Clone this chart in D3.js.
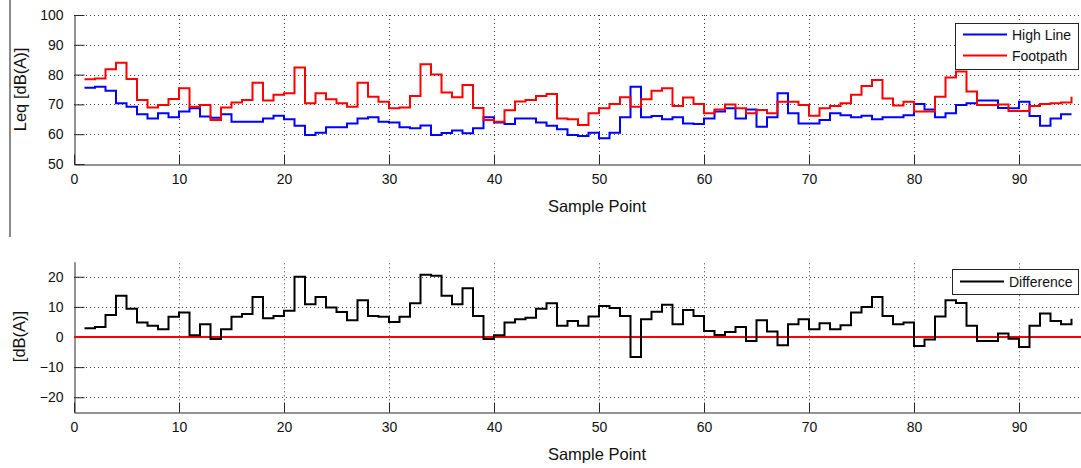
<!DOCTYPE html>
<html>
<head>
<meta charset="utf-8">
<script src="https://cdnjs.cloudflare.com/ajax/libs/d3/7.8.5/d3.min.js"></script>
<style>
  html, body { margin: 0; padding: 0; background: #fff; }
  svg { display: block; font-family: "Liberation Sans", Arial, sans-serif; }
</style>
</head>
<body>
<svg id="chart" width="1081" height="468"></svg>
<script>
// ---- data (sample points 1..95) ----
const samplePoints = d3.range(1, 96);
const highLine = [
  75.6, 75.9, 74.6, 70.4, 69.2, 66.7, 65.3, 67.0, 65.7, 67.6,
  68.7, 65.9, 65.5, 66.7, 64.2, 64.2, 64.2, 65.3, 66.2, 65.0,
  62.8, 59.7, 60.5, 62.3, 62.3, 63.6, 65.3, 65.7, 64.2, 63.9,
  62.3, 62.0, 62.9, 59.7, 60.4, 61.2, 60.3, 62.0, 65.7, 63.9,
  63.4, 65.3, 65.3, 63.9, 62.8, 61.7, 59.7, 59.4, 60.5, 58.6,
  60.5, 65.7, 75.9, 65.7, 66.1, 65.0, 65.7, 63.6, 63.4, 65.3,
  67.6, 68.7, 65.3, 68.3, 62.5, 65.7, 73.7, 67.0, 63.6, 63.6,
  64.8, 67.0, 66.4, 65.7, 66.2, 65.0, 65.7, 65.7, 66.4, 70.1,
  68.3, 65.7, 67.0, 69.8, 70.4, 71.3, 71.3, 68.8, 68.7, 70.9,
  66.1, 62.8, 65.3, 66.7, 66.7
];
const footpath = [
  78.4, 78.7, 81.8, 84.0, 78.5, 71.5, 69.0, 69.8, 71.8, 75.4,
  69.2, 69.8, 64.8, 69.0, 70.6, 71.5, 77.3, 71.3, 73.2, 73.7,
  82.4, 70.4, 73.7, 71.7, 70.4, 69.2, 77.3, 72.6, 70.9, 68.7,
  69.0, 72.8, 83.5, 80.0, 74.0, 72.4, 76.5, 68.8, 64.8, 64.2,
  68.0, 71.0, 71.5, 72.8, 73.5, 65.3, 65.0, 63.1, 67.0, 68.7,
  70.1, 72.4, 69.2, 71.7, 74.6, 75.4, 69.5, 72.3, 70.1, 67.0,
  68.3, 70.0, 68.7, 67.0, 68.1, 67.0, 70.9, 70.9, 69.8, 66.2,
  68.7, 69.5, 70.4, 73.2, 76.2, 78.2, 72.0, 69.6, 70.9, 67.6,
  67.6, 72.6, 79.0, 81.0, 74.3, 69.8, 69.8, 70.0, 67.8, 67.8,
  69.5, 70.1, 70.4, 70.6, 72.6
];
const difference = [
  2.9, 3.3, 7.3, 13.7, 9.4, 4.8, 3.7, 2.6, 6.7, 8.1,
  0.6, 4.2, -0.7, 2.6, 6.7, 7.6, 13.3, 6.2, 7.0, 8.7,
  20.0, 10.9, 13.3, 9.8, 8.3, 5.6, 12.2, 7.0, 6.7, 5.0,
  6.7, 11.2, 20.7, 20.3, 13.7, 10.9, 16.2, 7.0, -0.7, 0.6,
  4.8, 5.9, 6.4, 9.4, 11.2, 3.7, 5.3, 3.7, 6.8, 10.3,
  9.6, 7.0, -6.6, 5.9, 8.4, 10.7, 4.2, 9.0, 7.0, 2.0,
  0.7, 1.7, 3.3, -1.3, 5.6, 1.8, -2.7, 4.2, 5.9, 2.6,
  4.6, 2.6, 3.9, 8.1, 10.0, 13.3, 7.0, 4.2, 4.8, -3.0,
  -0.8, 6.8, 12.2, 11.3, 3.7, -1.3, -1.3, 1.2, -0.6, -3.3,
  3.7, 7.8, 5.3, 4.2, 6.1
];
const xTicks = [0, 10, 20, 30, 40, 50, 60, 70, 80, 90];
const topYTicks = [50, 60, 70, 80, 90, 100];
const bottomYTicks = [-20, -10, 0, 10, 20];
const topSeriesNames = ["High Line", "Footpath"];
const bottomSeriesNames = ["Difference"];
const xLabel = "Sample Point";
const topYLabel = "Leq [dB(A)]";
const bottomYLabel = "[dB(A)]";

// ---- layout ----
const svg = d3.select("#chart");
const axisColor = "#262626";
const gridColor = "#404040";
const left = 74, right = 1082;

const x = d3.scaleLinear().domain([0, 96]).range([left, right]);
const yTop = d3.scaleLinear().domain([50, 100]).range([164, 15]);
const yBot = d3.scaleLinear().domain([-25, 25]).range([412.3, 261.7]);

// odd gray bar at far left
svg.append("line")
  .attr("x1", 10).attr("x2", 10).attr("y1", 0).attr("y2", 237)
  .attr("stroke", "#8a8a8a").attr("stroke-width", 2);

function drawPanel(y, yTicks, gridYTicks, yLabelText, yLabelPos, xLabelBaseline) {
  const g = svg.append("g");
  const [y0, y1] = y.range();
  // grid
  g.append("g").selectAll("line").data(xTicks.filter(d => d > 0)).join("line")
    .attr("x1", d => Math.round(x(d)) + 0.5).attr("x2", d => Math.round(x(d)) + 0.5)
    .attr("y1", y0).attr("y2", y1)
    .attr("stroke", gridColor).attr("stroke-width", 1).attr("stroke-dasharray", "1,3");
  g.append("g").selectAll("line").data(gridYTicks).join("line")
    .attr("x1", left).attr("x2", right)
    .attr("y1", d => Math.round(y(d)) + 0.5).attr("y2", d => Math.round(y(d)) + 0.5)
    .attr("stroke", gridColor).attr("stroke-width", 1).attr("stroke-dasharray", "1,3");

  // axes
  const xAxis = d3.axisBottom(x).tickValues(xTicks).tickSize(-10).tickSizeOuter(0).tickPadding(10);
  const gx = g.append("g").attr("transform", `translate(0,${Math.round(y0) + 0.5})`).call(xAxis);
  const yAxis = d3.axisLeft(y).tickValues(yTicks).tickSize(-10).tickSizeOuter(0).tickPadding(11);
  const gy = g.append("g").attr("transform", `translate(${left + 0.5},0)`).call(yAxis);
  [gx, gy].forEach(a => {
    a.selectAll("path.domain").attr("stroke", axisColor);
    a.selectAll(".tick line").attr("stroke", axisColor);
    a.selectAll(".tick text").attr("fill", "#111").style("font-size", "14px")
      .style("font-family", '"Liberation Sans", Arial, sans-serif');
  });

  g.append("text").attr("x", 597).attr("y", xLabelBaseline)
    .attr("text-anchor", "middle").attr("fill", "#111").style("font-size", "16.5px")
    .text(xLabel);
  g.append("text")
    .attr("transform", `translate(${yLabelPos[0]},${yLabelPos[1]}) rotate(-90)`)
    .attr("text-anchor", "middle").attr("dominant-baseline", "central")
    .attr("fill", "#111").style("font-size", "16.5px")
    .text(yLabelText);
  return g;
}

const gTop = drawPanel(yTop, topYTicks, [60, 70, 80, 90, 100], topYLabel, [20, 89.5], 212);
const gBot = drawPanel(yBot, bottomYTicks, [-20, -10, 10, 20], bottomYLabel, [19, 336.5], 460);

// zero line
gBot.append("line")
  .attr("x1", x(0)).attr("x2", right)
  .attr("y1", yBot(0)).attr("y2", yBot(0))
  .attr("stroke", "#ff0000").attr("stroke-width", 2);

// step lines (stairs)
const stairs = (y) => d3.line().x((d, i) => x(samplePoints[i])).y(d => y(d)).curve(d3.curveStepAfter);

gTop.append("path").datum(highLine).attr("d", stairs(yTop))
  .attr("fill", "none").attr("stroke", "#0000ff").attr("stroke-width", 2);
gTop.append("path").datum(footpath).attr("d", stairs(yTop))
  .attr("fill", "none").attr("stroke", "#ff0000").attr("stroke-width", 2);
gBot.append("path").datum(difference).attr("d", stairs(yBot))
  .attr("fill", "none").attr("stroke", "#000000").attr("stroke-width", 2);

// legends
function legend(g, names, colors, box, rowY) {
  const lg = g.append("g");
  lg.append("rect").attr("x", box[0] + 0.5).attr("y", box[1] + 0.5)
    .attr("width", box[2]).attr("height", box[3])
    .attr("fill", "#fff").attr("stroke", axisColor).attr("stroke-width", 1);
  names.forEach((n, i) => {
    lg.append("line").attr("x1", box[0] + 8).attr("x2", box[0] + 52)
      .attr("y1", rowY[i]).attr("y2", rowY[i])
      .attr("stroke", colors[i]).attr("stroke-width", 2);
    lg.append("text").attr("x", box[0] + 57).attr("y", rowY[i])
      .attr("dominant-baseline", "central").attr("fill", "#111")
      .style("font-size", "14px").text(n);
  });
}
legend(gTop, topSeriesNames, ["#0000ff", "#ff0000"], [955, 23, 123, 46], [34.5, 55.5]);
legend(gBot, bottomSeriesNames, ["#000000"], [952, 269, 126, 25], [281.5]);
</script>
</body>
</html>
